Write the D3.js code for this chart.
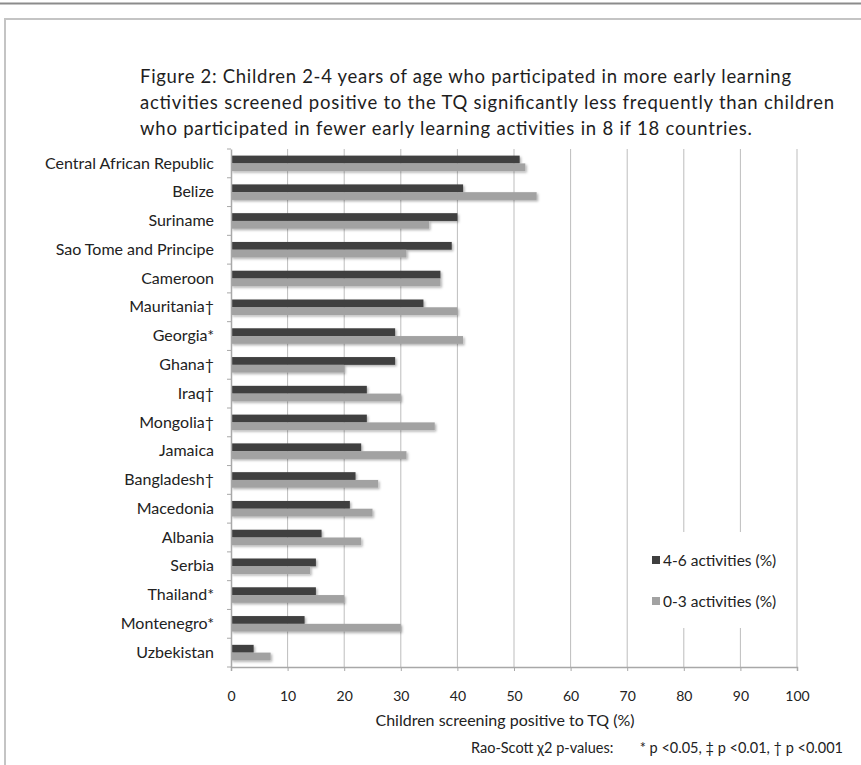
<!DOCTYPE html>
<html>
<head>
<meta charset="utf-8">
<script src="https://cdn.jsdelivr.net/npm/d3@7"></script>
<style>
  html, body { margin: 0; padding: 0; background: #fff; overflow: hidden; width: 861px; height: 765px; }
  ::-webkit-scrollbar { display: none; }
  svg { position: absolute; left: 0; top: 0; display: block; font-family: Lato, "Open Sans", sans-serif; }
</style>
</head>
<body>
<svg id="chart" width="861" height="765"></svg>
<script>
// Countries, top to bottom
const countries = [
  "Central African Republic", "Belize", "Suriname", "Sao Tome and Principe",
  "Cameroon", "Mauritania\u2020", "Georgia*", "Ghana\u2020", "Iraq\u2020",
  "Mongolia\u2020", "Jamaica", "Bangladesh\u2020", "Macedonia", "Albania",
  "Serbia", "Thailand*", "Montenegro*", "Uzbekistan"
];
// Children screening positive to TQ (%), by number of early learning activities
const more = [51, 41, 40, 39, 37, 34, 29, 29, 24, 24, 23, 22, 21, 16, 15, 15, 13, 4];   // 4-6 activities
const fewer = [52, 54, 35, 31, 37, 40, 41, 20, 30, 36, 31, 26, 25, 23, 14, 20, 30, 7];  // 0-3 activities
const seriesNames = ["4-6 activities (%)", "0-3 activities (%)"];
const xTicks = [0, 10, 20, 30, 40, 50, 60, 70, 80, 90, 100];
const titleLines = [
  "Figure 2: Children 2-4 years of age who participated in more early learning",
  "activities screened positive to the TQ significantly less frequently than children",
  "who participated in fewer early learning activities in 8 if 18 countries."
];
const titleWidths = [651, 694, 612];
const xTitle = "Children screening positive to TQ (%)";
const footLead = "Rao-Scott \u03c72 p-values:";
const footKeys = "* p <0.05, \u2021 p <0.01, \u2020 p <0.001";

const svg = d3.select("#chart");
const colors = ["#3f3f3f", "#a2a2a2"];

// soft shadow under the bars
const defs = svg.append("defs");
const f = defs.append("filter").attr("id", "shadow")
  .attr("x", "-5%").attr("y", "-30%").attr("width", "115%").attr("height", "180%");
f.append("feDropShadow").attr("dx", 1.5).attr("dy", 1.5)
  .attr("stdDeviation", 1.2).attr("flood-color", "#000").attr("flood-opacity", 0.3);

// page frame
svg.append("line").attr("x1", 0).attr("x2", 861).attr("y1", 3.5).attr("y2", 3.5)
  .attr("stroke", "#8c8c8c").attr("stroke-width", 2);
svg.append("path").attr("d", "M5,765 V19 H861")
  .attr("fill", "none").attr("stroke", "#c4c4c4").attr("stroke-width", 2);

// title
svg.append("g").selectAll("text").data(titleLines).join("text")
  .attr("x", 140).attr("y", (d, i) => 83 + i * 26)
  .attr("font-size", 18.5).attr("fill", "#1e1e1e")
  .attr("textLength", (d, i) => titleWidths[i]).attr("lengthAdjust", "spacing")
  .text(d => d);

const plot = { left: 231, right: 797, top: 149, bottom: 667 };

const x = d3.scaleLinear().domain([0, 100]).range([plot.left, plot.right]);
const y = d3.scaleBand().domain(countries).range([plot.top, plot.bottom]);
const barH = y.bandwidth() * 0.27;

// vertical gridlines
svg.append("g").selectAll("line").data(xTicks.slice(1)).join("line")
  .attr("x1", d => x(d)).attr("x2", d => x(d))
  .attr("y1", plot.top).attr("y2", plot.bottom)
  .attr("stroke", "#bdbdbd").attr("stroke-width", 1);

// bars
const rows = countries.map((c, i) => ({ c, vals: [more[i], fewer[i]] }));
const barG = svg.append("g").attr("filter", "url(#shadow)");
rows.forEach(r => {
  r.vals.forEach((v, k) => {
    barG.append("rect")
      .attr("x", x(0))
      .attr("y", y(r.c) + y.bandwidth() / 2 - barH + k * barH)
      .attr("width", x(v) - x(0))
      .attr("height", barH)
      .attr("fill", colors[k]);
  });
});

// x axis
const xAxis = svg.append("g").attr("transform", `translate(0,${plot.bottom})`)
  .call(d3.axisBottom(x).tickValues(xTicks).tickSize(4).tickPadding(20));
xAxis.select(".domain").attr("stroke", "#a8a8a8").attr("stroke-width", 1.5);
xAxis.selectAll(".tick line").attr("stroke", "#a8a8a8");
xAxis.selectAll(".tick text").attr("font-size", 14).attr("fill", "#222")
  .attr("font-family", "Lato, sans-serif");

// y axis
const yAxis = svg.append("g").attr("transform", `translate(${plot.left},0)`)
  .call(d3.axisLeft(y).tickSize(0).tickPadding(17));
yAxis.select(".domain").attr("stroke", "#a8a8a8").attr("stroke-width", 1.5);
yAxis.selectAll(".tick text").attr("font-size", 16).attr("fill", "#222")
  .attr("font-family", "Lato, sans-serif");
// category boundary ticks
svg.append("g").selectAll("line").data(d3.range(countries.length + 1)).join("line")
  .attr("x1", plot.left - 4).attr("x2", plot.left)
  .attr("y1", i => plot.top + i * y.step()).attr("y2", i => plot.top + i * y.step())
  .attr("stroke", "#a8a8a8");

// axis title and footnote
svg.append("text").attr("x", 505).attr("y", 726)
  .attr("text-anchor", "middle").attr("font-size", 16).attr("fill", "#222").text(xTitle);
svg.append("text").attr("x", 471).attr("y", 753)
  .attr("font-size", 14.5).attr("fill", "#222").text(footLead);
svg.append("text").attr("x", 843).attr("y", 753)
  .attr("text-anchor", "end").attr("font-size", 14.5).attr("fill", "#222").text(footKeys);

// legend
const lg = svg.append("g");
lg.append("rect").attr("x", 642).attr("y", 532).attr("width", 146).attr("height", 96).attr("fill", "#fff");
seriesNames.forEach((name, k) => {
  const cy = 561 + k * 41;
  lg.append("rect").attr("x", 652).attr("y", cy - 5).attr("width", 8).attr("height", 8)
    .attr("fill", colors[k]);
  lg.append("text").attr("x", 663).attr("y", cy + 5).attr("font-size", 15.5)
    .attr("fill", "#222").text(name);
});
</script>
</body>
</html>
